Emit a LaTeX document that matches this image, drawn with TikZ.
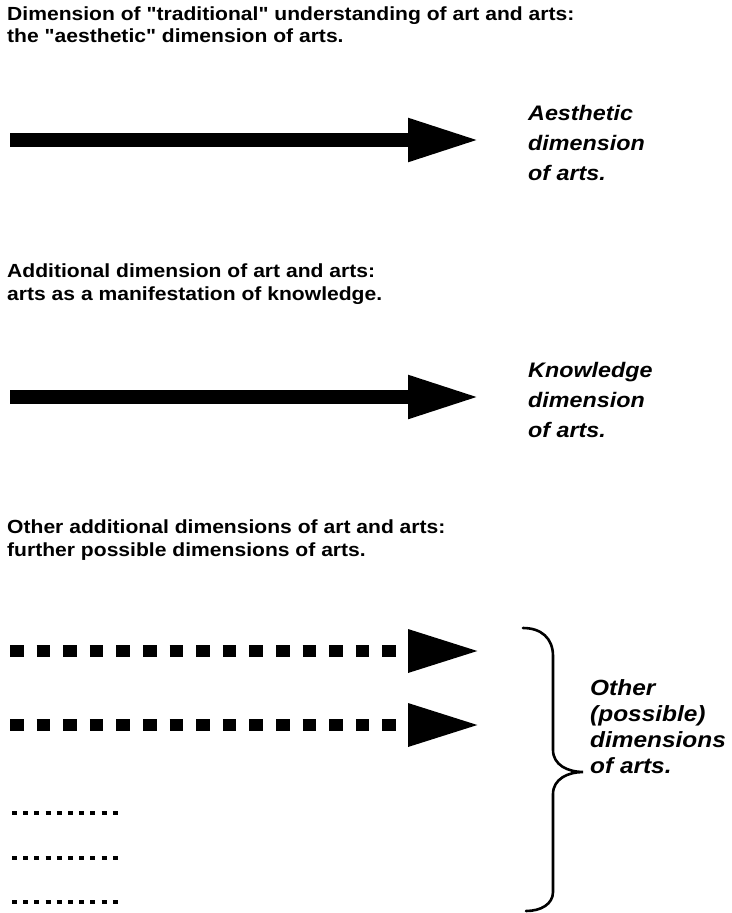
\documentclass[tikz,border=0pt]{standalone}
\usepackage{fontspec}
\setmainfont{Liberation Sans}
\newfontfamily\hfont[FakeStretch=1.11]{Liberation Sans}
\usetikzlibrary{arrows.meta}
\tikzset{
  head/.style={anchor=base west,inner sep=0pt,font=\hfont\fontsize{19}{23}\selectfont\bfseries},
  lab/.style={anchor=base west,inner sep=0pt,font=\hfont\fontsize{21}{27}\selectfont\bfseries\itshape},
  labs/.style={anchor=base west,inner sep=0pt,font=\hfont\fontsize{22}{26}\selectfont\bfseries\itshape},
  bigarrow/.style={line width=14pt,-{Triangle[length=72pt,width=40pt]}},
  dasharrow/.style={line width=12.5pt,dash pattern=on 13.5pt off 13.1pt,-{Triangle[length=72pt,width=40pt]}},
  dotrow/.style={line width=4.5pt,dash pattern=on 5pt off 6.2pt},
  bracestyle/.style={line width=2.6pt,line cap=round}
}
\begin{document}
\begin{tikzpicture}[x=1pt,y=-1pt]
\useasboundingbox (0,0) rectangle (731,913);
\fill[white] (0,0) rectangle (731,913);
% headers
\node[head] (h1a) at (7,20) {Dimension of "traditional" understanding of art and arts:};
\node[head] (h1b) at (7,42) {the "aesthetic" dimension of arts.};
\node[head] (h2a) at (7,277) {Additional dimension of art and arts:};
\node[head] (h2b) at (7,300) {arts as a manifestation of knowledge.};
\node[head] (h3a) at (7,533) {Other additional dimensions of art and arts:};
\node[head] (h3b) at (7,556) {further possible dimensions of arts.};
% arrow 1
\coordinate (a1s) at (10,140);
\coordinate (a1e) at (480,140);
\draw[bigarrow] (a1s) -- (a1e);
\node[lab] (l1a) at (528,120) {Aesthetic};
\node[lab] (l1b) at (528,150) {dimension};
\node[lab] (l1c) at (528,180) {of arts.};
% arrow 2
\coordinate (a2s) at (10,397);
\coordinate (a2e) at (480,397);
\draw[bigarrow] (a2s) -- (a2e);
\node[lab] (l2a) at (528,377) {Knowledge};
\node[lab] (l2b) at (528,407) {dimension};
\node[lab] (l2c) at (528,437) {of arts.};
% dashed arrows
\coordinate (d1s) at (10,651);
\coordinate (d1e) at (480,651);
\draw[dasharrow] (d1s) -- (d1e);
\coordinate (d2s) at (10,725);
\coordinate (d2e) at (480,725);
\draw[dasharrow] (d2s) -- (d2e);
% dotted rows
\coordinate (r1s) at (12,813); \coordinate (r1e) at (118,813);
\coordinate (r2s) at (12,858); \coordinate (r2e) at (118,858);
\coordinate (r3s) at (12,902); \coordinate (r3e) at (118,902);
\draw[dotrow] (r1s) -- (r1e);
\draw[dotrow] (r2s) -- (r2e);
\draw[dotrow] (r3s) -- (r3e);
% brace
\coordinate (bt) at (523,628);
\coordinate (btip) at (583,772);
\coordinate (bb) at (526,911);
\draw[bracestyle] (bt) .. controls (541,628) and (553,638) .. (553,656)
  -- (553,750) .. controls (553,765) and (568,772) .. (btip)
  .. controls (568,772) and (553,779) .. (553,794)
  -- (553,892) .. controls (553,904) and (541,911) .. (bb);
\node[labs] (l3a) at (590,695) {Other};
\node[labs] (l3b) at (590,721) {(possible)};
\node[labs] (l3c) at (590,747) {dimensions};
\node[labs] (l3d) at (590,773) {of arts.};
\end{tikzpicture}
\end{document}
